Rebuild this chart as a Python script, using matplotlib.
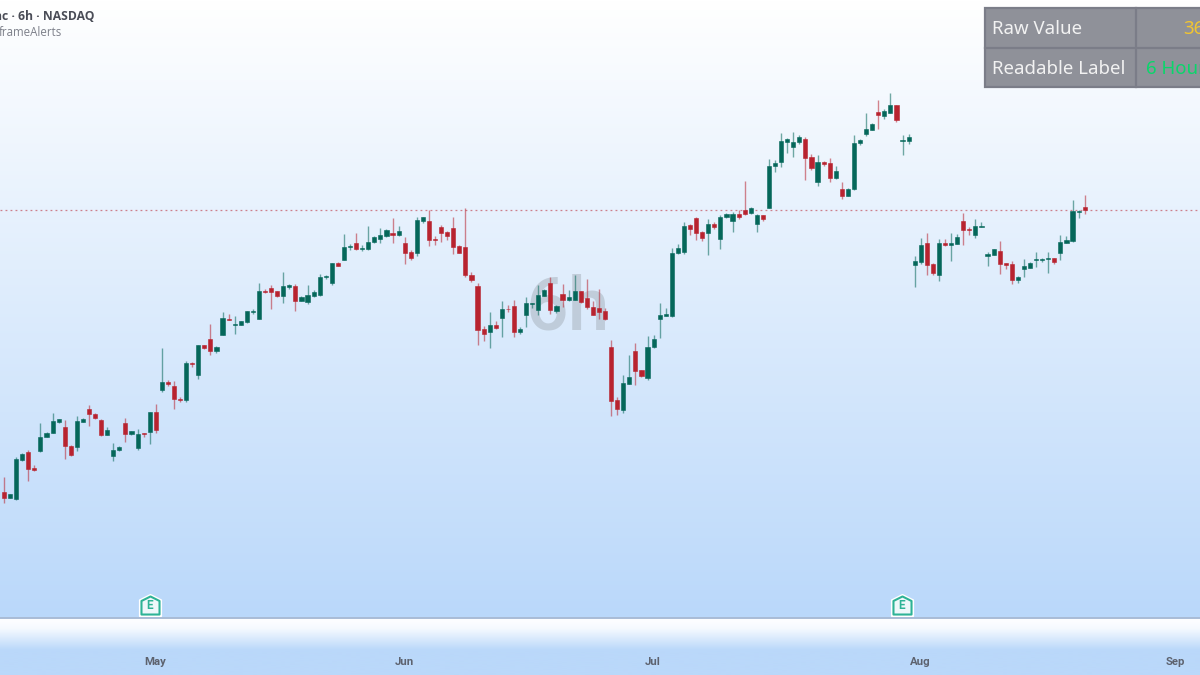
import numpy as np
import matplotlib
matplotlib.use("Agg")
import matplotlib.pyplot as plt
from matplotlib.colors import LinearSegmentedColormap
from matplotlib.patches import Rectangle
from matplotlib.path import Path

opens = [
    125.7, 120.3, 118.7, 157.7, 166, 149.7, 167, 181, 185, 196,
    190.7, 172, 171, 196.3, 209, 204.3, 198.3, 183.3, 162.3, 167.7,
    195.3, 183.7, 170, 185, 185.7, 206, 228, 235.7, 232.3, 219.3,
    218, 255, 243, 272.7, 278.7, 266.7, 283, 299.3, 293.3, 293,
    295.7, 306.3, 299.3, 326.7, 330, 326.7, 321.7, 331, 332.3, 317.3,
    316.3, 322.3, 323.3, 341, 335.3, 355, 358, 370.7, 375, 369,
    368.7, 375.7, 378.7, 381.7, 385, 382.7, 375, 365.7, 364.7, 397,
    396.7, 379, 391.3, 386, 389.7, 371.7, 371, 343.3, 331.7, 289,
    286, 293, 300, 309.3, 312, 286, 303, 314.3, 308.3, 322.3,
    335.3, 307.3, 324, 317.7, 318, 326.7, 320, 311.3, 310, 307,
    271, 218, 207.7, 234, 267.3, 247.7, 239.7, 270.7, 299, 302.3,
    302.3, 364.7, 365.7, 392.7, 400.3, 386, 385.3, 394.3, 379, 400.7,
    396.7, 404.3, 408, 404.7, 393.7, 402.7, 409.7, 451.7, 456.3, 476.3,
    471, 475.7, 479.3, 460.7, 435.7, 456.3, 455.3, 440, 429, 422,
    428.7, 474.7, 484.3, 488, 506.3, 502.3, 505.3, 512.7, 477.3, 477.3,
    352.7, 356.3, 375, 354, 343.3, 375, 372.7, 374.3, 397, 389,
    382.7, 391.3, 362, 363.3, 366.7, 355, 354, 337.7, 349.3, 350.3,
    358.3, 358, 359, 359.7, 365, 375, 376.7, 406, 410.7,
]
closes = [
    120.3, 124, 159, 164.3, 149, 147.7, 181.3, 184.7, 197, 198.7,
    172.3, 163, 197, 199.3, 204.3, 200.3, 183, 188.3, 168, 170.7,
    184, 186.7, 184.3, 184.3, 206, 187.7, 235.7, 234, 219, 218,
    255, 254, 272.7, 270.3, 267, 271, 299.7, 298.3, 294, 296.7,
    306.7, 307, 326.7, 325.7, 326.3, 322, 332.3, 333, 317.3, 320.7,
    323, 326, 340.7, 341.7, 354.7, 352.3, 371, 371.7, 368.7, 370,
    376.3, 381, 382.7, 388.3, 382.7, 386.7, 365, 359.7, 398.3, 400.7,
    378, 378.3, 385, 382, 371.3, 365, 343.3, 337.7, 288.3, 284.3,
    292.7, 289.7, 309, 308.7, 286, 289, 314.7, 315, 323, 328,
    307.7, 312, 317.7, 321, 327, 315.7, 310.7, 303.3, 306.3, 299,
    217.3, 209, 235, 241, 246.7, 242, 271, 279, 303, 303.7,
    364.7, 369.7, 392, 389, 385.3, 379.7, 394.3, 391.3, 401.3, 404.3,
    404.3, 400.7, 404.3, 410.3, 402.7, 399, 452.3, 454.7, 477, 478.7,
    476.3, 481, 460.3, 450, 456, 454, 440.3, 446.7, 422.3, 429,
    475.3, 477.7, 488.7, 494.3, 502.7, 507.3, 512.7, 498, 478, 481,
    357, 373.3, 353.3, 345.3, 375, 373, 375, 381, 388, 388,
    391.7, 392, 364, 368.7, 354, 353, 338, 341.3, 351.7, 355.3,
    359, 359, 360, 356.3, 375.7, 378, 406.7, 407.3, 407.7,
]
highs = [
    140.7, 124.3, 161.3, 165.3, 168, 152.7, 195.3, 185.7, 205.3, 199.3,
    197.7, 173, 202.3, 199.7, 213, 205.3, 199, 190.7, 174.7, 171.7,
    199.7, 187.3, 188.7, 185.3, 206.3, 213.7, 269.7, 237.7, 237, 221,
    256.7, 255.7, 273.3, 273.3, 293.7, 271.7, 306, 303.7, 302, 297,
    306.7, 308.7, 335.3, 328.7, 332.7, 327, 345.7, 334, 333.7, 321.7,
    333.3, 327.7, 343.7, 343, 355.3, 356.3, 383.7, 374.3, 385, 373,
    391.7, 381.7, 389.7, 389, 399.7, 391.7, 381, 368, 401, 401.3,
    408, 382, 392.7, 387, 400.7, 372.7, 409.7, 346.3, 334.7, 292,
    306, 297.3, 316.7, 313, 317.7, 291, 320.7, 315.3, 333, 328.7,
    340.7, 313, 334, 327.7, 342.7, 327.3, 338.7, 316.7, 329.3, 310,
    277.7, 221, 243.3, 263.3, 274.7, 248, 282, 282.7, 314.7, 309.7,
    370.3, 374, 395.7, 393.7, 401, 387.3, 399, 395.7, 402.7, 405.3,
    405.7, 408, 437, 411, 404, 402.7, 459, 457.7, 485, 480.3,
    485.7, 483.3, 480.7, 463.7, 463, 456.7, 459.7, 451.7, 435.7, 429.7,
    483, 479.3, 505, 494.7, 518, 508.7, 525, 512.7, 483.3, 483.7,
    362.3, 380.3, 384.7, 354.7, 378.7, 378.7, 384.7, 384, 405, 391,
    398.7, 396, 366.3, 369, 376.7, 355.3, 356.7, 341.7, 358.7, 355.7,
    365.7, 360, 366.3, 360, 383.3, 382, 418.3, 407.7, 422.7,
]
lows = [
    115.3, 120, 118, 157.3, 137.3, 147, 166.3, 180.7, 184.7, 195,
    159.3, 161.7, 167, 196, 191.7, 199.3, 181.7, 183, 157.3, 167.3,
    176, 183.3, 167.7, 180.7, 173.7, 185.3, 226.3, 232.3, 208.7, 216.3,
    216.3, 251, 239.3, 269.3, 262.7, 265.3, 282.7, 298.3, 284.3, 292.7,
    295.3, 304.3, 299.3, 325.3, 309.3, 321, 314.7, 329.3, 307, 316.7,
    314, 321.3, 321.7, 339, 333, 351.7, 358, 368, 368, 366.7,
    368.3, 375, 375, 381, 375, 382.3, 354, 358, 362, 395.3,
    372.3, 373.3, 376, 378, 364.3, 364.7, 341, 336.3, 272.7, 277.3,
    270.3, 289.3, 281.3, 306, 281.3, 284.3, 291, 309.7, 303, 322,
    304.3, 305.3, 311, 317, 317.7, 315, 308.7, 303, 299, 298.3,
    202.3, 203.3, 205, 234, 233.3, 241.3, 238.3, 270.3, 280, 301.7,
    301.3, 364.3, 363.7, 383.3, 378, 377.3, 363.3, 389.3, 368.7, 400.3,
    386.3, 398.7, 403, 404, 386, 397.3, 409.7, 446.3, 451, 464.7,
    461, 474.3, 437.7, 447.7, 431.7, 452, 436.3, 439.3, 419.3, 421.7,
    428.3, 472.7, 482, 487.7, 488.7, 499, 505, 495.7, 463.3, 474,
    331, 354.3, 343.3, 343.3, 337, 372, 357.3, 374.3, 373.3, 382.7,
    380.3, 391, 352.3, 362.7, 344, 349.3, 334, 335.3, 341, 349.7,
    351, 356.3, 344.7, 354, 358, 374.7, 376, 400.3, 403.7,
]
last_price = 408
earnings_bars = [24.05, 147.9]
earnings_level = 13
month_bars = [24.9, 65.9, 106.9, 150.9, 192.9]
month_names = ["May", "Jun", "Jul", "Aug", "Sep"]

GREEN = "#05675a"
RED = "#b8232f"
SKY = "#bad8fa"

opens = np.array(opens)
closes = np.array(closes)
highs = np.array(highs)
lows = np.array(lows)
bars = np.arange(len(opens))
colors = [GREEN if c >= o else RED for o, c in zip(opens, closes)]

plt.rcParams["font.family"] = ["Roboto", "DejaVu Sans"]
fig = plt.figure(figsize=(12, 6.75), dpi=100)
xlim = (-0.66, 197.0)

# main pane, y=0..618 in the picture
ax = fig.add_axes([0, 57 / 675, 1, 618 / 675])
ax.set_xlim(xlim)
ax.set_ylim(0, 618)
ax.axis("off")
pane_cmap = LinearSegmentedColormap.from_list("pane", ["#ffffff", SKY])
ax.imshow(np.linspace(0, 1, 256)[:, None], extent=[xlim[0], xlim[1], 0, 618],
          aspect="auto", cmap=pane_cmap, origin="upper", zorder=0)

ax.text(0.4735, 0.4995, "6h", transform=ax.transAxes, fontsize=54, fontweight="medium", color="#9aa3ad",
        alpha=0.42, ha="center", va="center", family="Roboto", zorder=1)
ax.axhline(last_price, color=RED, lw=0.9, alpha=0.55, dashes=(1.5, 2.5), zorder=1)

ax.vlines(bars, lows, highs, colors=colors, lw=1.0, alpha=0.55, zorder=2)
ax.bar(bars, np.abs(closes - opens), bottom=np.minimum(opens, closes), width=0.68,
       color=colors, edgecolor=colors, linewidth=0.4, zorder=3)

# earnings badge
house = Path([(-0.5, -0.5), (0.5, -0.5), (0.5, 0.25), (0, 0.5), (-0.5, 0.25), (-0.5, -0.5)],
             [Path.MOVETO, Path.LINETO, Path.LINETO, Path.LINETO, Path.LINETO, Path.CLOSEPOLY])
for bar in earnings_bars:
    ax.plot(bar, earnings_level, marker=house, ms=15.5, mfc="white", mec="white", mew=1.2, zorder=4)
    ax.plot(bar, earnings_level, marker=house, ms=13, mfc="#eef8fa", mec="#2eb396", mew=1.5, zorder=5)
    ax.text(bar, earnings_level - 0.8, "E", fontsize=8.5, fontweight="bold", color="#2eb396",
            ha="center", va="center", zorder=6)

# time scale strip
ax_time = fig.add_axes([0, 0, 1, 57 / 675])
ax_time.set_xlim(xlim)
ax_time.set_ylim(0, 1)
strip_cmap = LinearSegmentedColormap.from_list("strip", [(0, "#ffffff"), (0.18, "#f6faff"), (0.56, SKY), (1, SKY)])
ax_time.imshow(np.linspace(0, 1, 256)[:, None], extent=[xlim[0], xlim[1], 0, 1],
               aspect="auto", cmap=strip_cmap, origin="upper")
ax_time.set_xticks(month_bars, month_names, fontweight="bold")
ax_time.tick_params(axis="x", length=0, pad=-13.2, labelsize=8.2, labelcolor="#5d626e")
ax_time.set_yticks([])
for name, spine in ax_time.spines.items():
    spine.set_visible(name == "top")
ax_time.spines["top"].set_color("#a9bcd6")
ax_time.spines["top"].set_linewidth(1.4)

# overlay in picture pixels: header and info table
ov = fig.add_axes([0, 0, 1, 1], zorder=10)
ov.set_xlim(0, 1200)
ov.set_ylim(675, 0)
ov.axis("off")
ov.patch.set_alpha(0)

ov.text(95, 16, "nc · 6h · NASDAQ", fontsize=8.7, fontweight="bold", color="#4a4d57",
        family="Open Sans", ha="right", va="center")
ov.text(62, 32, "frameAlerts", fontsize=8.3, color="#7d808a", family="Open Sans", ha="right", va="center")

ov.add_patch(Rectangle((985, 8), 260, 79, fc="#8f9199", ec="#7b7d88", lw=1.6))
ov.plot([985, 1245], [48, 48], color="#7b7d88", lw=1.6)
ov.plot([1136, 1136], [8, 87], color="#7b7d88", lw=1.6)
ov.text(992, 29.5, "Raw Value", fontsize=13.4, color="#f2f2f2", family="Noto Sans", va="center")
ov.text(992, 68.5, "Readable Label", fontsize=13.4, color="#f2f2f2", family="Noto Sans", va="center")
ov.text(1215, 29.5, "360", fontsize=13.4, color="#f2c530", family="Noto Sans", ha="right", va="center")
ov.text(1215, 68.5, "6 Hours", fontsize=13.4, color="#0ad66b", family="Noto Sans", ha="right", va="center")

fig.savefig("out.png", dpi=100)
